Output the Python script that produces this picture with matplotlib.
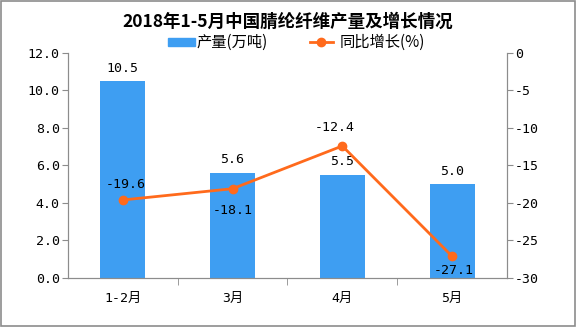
import matplotlib
matplotlib.use("Agg")
import matplotlib.pyplot as plt
from matplotlib.patches import Rectangle
from matplotlib.lines import Line2D

plt.rcParams['font.family'] = ['Noto Sans CJK SC', 'DejaVu Sans']
MONO = ['DejaVu Sans Mono', 'Noto Sans CJK SC']

categories = ['1-2月', '3月', '4月', '5月']
output = [10.5, 5.6, 5.5, 5.0]
growth = [-19.6, -18.1, -12.4, -27.1]
left_ticks = [0.0, 2.0, 4.0, 6.0, 8.0, 10.0, 12.0]
right_ticks = [0, -5, -10, -15, -20, -25, -30]

bar_color = '#3E9EF2'
line_color = '#FF6A1C'
axis_color = '#8C8C8C'

fig = plt.figure(figsize=(5.76, 3.27), dpi=100)
ax = fig.add_axes([0.118, 0.150, 0.762, 0.688])
ax2 = ax.twinx()

x = list(range(len(categories)))
ax.bar(x, output, width=0.41, color=bar_color, zorder=2)
ax.set_xlim(-0.5, len(categories) - 0.5)
ax.set_ylim(0, 12)
ax.set_yticks(left_ticks)
ax.set_yticklabels([f'{v:.1f}' for v in left_ticks], fontsize=9.5, family=MONO)
ax.set_xticks(x)
ax.set_xticklabels(categories, fontsize=9.5, family=MONO)
ax.tick_params(axis='x', length=0, pad=10)
ax.set_xticks([i + 0.5 for i in x[:-1]], minor=True)
ax.tick_params(axis='x', which='minor', length=5, color=axis_color)
ax.tick_params(axis='y', length=4, color=axis_color, pad=2)

for i, v in enumerate(output):
    ax.text(i, v + 0.35, f'{v:.1f}', ha='center', va='bottom', fontsize=9.5, family=MONO)

ax2.plot(x, growth, color=line_color, lw=2, marker='o', ms=6, zorder=3)
ax2.set_ylim(-30, 0)
ax2.set_yticks(right_ticks)
ax2.set_yticklabels([f'{v}' for v in right_ticks], fontsize=9.5, family=MONO)
ax2.tick_params(axis='y', length=4, color=axis_color, pad=2)

dy = [2.0, -2.9, 2.5, -1.9]
dx = [0.03, 0.0, -0.07, 0.02]
for i, v in enumerate(growth):
    ax2.text(i + dx[i], v + dy[i], f'{v}', ha='center', va='center', fontsize=9.5, family=MONO)

for a in (ax, ax2):
    a.spines['top'].set_visible(False)
    for s in ['left', 'right', 'bottom']:
        a.spines[s].set_color(axis_color)

fig.text(0.5, 0.933, '2018年1-5月中国腈纶纤维产量及增长情况', ha='center', va='center',
         fontsize=12.6, fontweight='bold')

# legend
ly = 0.8716
fig.patches.append(Rectangle((0.2917, ly - 0.0115), 0.047, 0.023, transform=fig.transFigure,
                             color=bar_color))
fig.text(0.342, ly, '产量(万吨)', ha='left', va='center', fontsize=11)
fig.lines.append(Line2D([0.538, 0.578], [ly, ly], transform=fig.transFigure,
                        color=line_color, lw=2))
fig.lines.append(Line2D([0.558], [ly], transform=fig.transFigure,
                        color=line_color, marker='o', ms=6))
fig.text(0.590, ly, '同比增长(%)', ha='left', va='center', fontsize=11)

fig.patches.append(Rectangle((0.001, 0.002), 0.997, 0.995, transform=fig.transFigure,
                             fill=False, edgecolor=axis_color, lw=1.2))

fig.savefig('out.png', dpi=100)
